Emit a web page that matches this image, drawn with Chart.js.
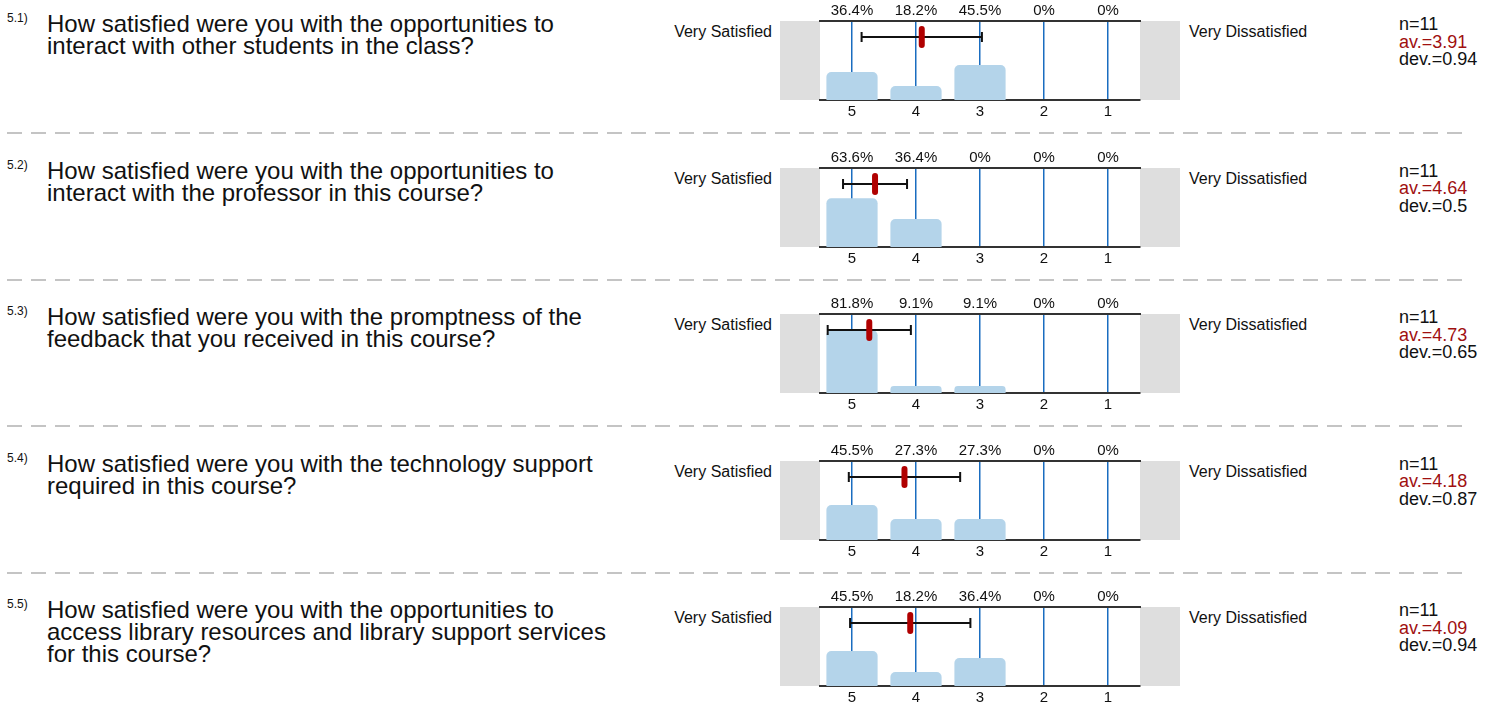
<!DOCTYPE html>
<html>
<head>
<meta charset="utf-8">
<script src="https://cdn.jsdelivr.net/npm/chart.js@4.4.1/dist/chart.umd.min.js"></script>
<style>
  body { margin: 0; background: #fff; font-family: "Liberation Sans", Arial, sans-serif; color: #111; }
  #page { position: relative; width: 1495px; height: 705px; overflow: hidden; }
  .abs { position: absolute; white-space: nowrap; }
  .qnum { font-size: 12px; }
  .qtext { font-size: 24px; line-height: 22px; }
  .pole { font-size: 16px; }
  .stats { font-size: 18px; line-height: 17.5px; }
  .stats .av { color: #a01010; }
  .sep { position: absolute; left: 7px; width: 1464px; height: 2px;
         background: repeating-linear-gradient(to right, #c4c4c4 0 15px, transparent 15px 24px); }
  canvas { position: absolute; }
</style>
</head>
<body>
<div id="page"></div>
<script>
// Antwortskala und Daten
const scaleLabels = ['5', '4', '3', '2', '1'];
const questionNumbers = ['5.1)', '5.2)', '5.3)', '5.4)', '5.5)'];
const questions = [
  ['How satisfied were you with the opportunities to', 'interact with other students in the class?'],
  ['How satisfied were you with the opportunities to', 'interact with the professor in this course?'],
  ['How satisfied were you with the promptness of the', 'feedback that you received in this course?'],
  ['How satisfied were you with the technology support', 'required in this course?'],
  ['How satisfied were you with the opportunities to', 'access library resources and library support services', 'for this course?']
];
const percents = [
  [36.4, 18.2, 45.5, 0, 0],
  [63.6, 36.4, 0, 0, 0],
  [81.8, 9.1, 9.1, 0, 0],
  [45.5, 27.3, 27.3, 0, 0],
  [45.5, 18.2, 36.4, 0, 0]
];
const counts = [11, 11, 11, 11, 11];
const means = [3.91, 4.64, 4.73, 4.18, 4.09];
const deviations = [0.94, 0.5, 0.65, 0.87, 0.94];
const leftPole = 'Very Satisfied';
const rightPole = 'Very Dissatisfied';

Chart.defaults.font.family = '"Liberation Sans", Arial, sans-serif';

const page = document.getElementById('page');

function addDiv(cls, left, top, html) {
  const d = document.createElement('div');
  d.className = 'abs ' + cls;
  d.style.left = left + 'px';
  d.style.top = top + 'px';
  d.innerHTML = html;
  page.appendChild(d);
  return d;
}

// graue Kästen links/rechts + Fehlerbalken mit Mittelwert
const profilePlugin = {
  id: 'profile',
  beforeDraw(chart) {
    const { ctx, chartArea: a } = chart;
    ctx.save();
    ctx.fillStyle = '#dedede';
    ctx.fillRect(a.left - 40, a.top, 40, a.bottom - a.top);
    ctx.fillRect(a.right, a.top, 40, a.bottom - a.top);
    ctx.restore();
  },
  afterDraw(chart) {
    const { ctx, chartArea: a } = chart;
    const x = chart.scales.x;
    const m = chart.options.plugins.profile.mean;
    const s = chart.options.plugins.profile.dev;
    // Skala 5..1 -> Index 0..4
    const px = v => x.getPixelForValue(5 - v);
    const y = a.top + 16;
    const x1 = px(m + s), x2 = px(m - s), xm = px(m);
    ctx.save();
    ctx.strokeStyle = '#111';
    ctx.lineWidth = 2;
    ctx.beginPath();
    ctx.moveTo(x1, y); ctx.lineTo(x2, y);
    ctx.moveTo(x1, y - 5); ctx.lineTo(x1, y + 5);
    ctx.moveTo(x2, y - 5); ctx.lineTo(x2, y + 5);
    ctx.stroke();
    ctx.fillStyle = '#b00000';
    ctx.beginPath();
    ctx.roundRect(xm - 3, y - 11, 6, 22, 3);
    ctx.fill();
    ctx.restore();
  }
};

questions.forEach((lines, i) => {
  const T = 21 + i * 146.6; // obere Linie des Profils

  addDiv('qnum', 7, T - 10, questionNumbers[i]);
  addDiv('qtext', 47, T - 8, lines.join('<br>'));
  const vs = addDiv('pole', 0, T + 2, leftPole);
  vs.style.left = 'auto';
  vs.style.right = (1495 - 772) + 'px';
  addDiv('pole', 1189, T + 2, rightPole);
  addDiv('stats', 1399, T - 5,
    'n=' + counts[i] + '<br><span class="av">av.=' + means[i] + '</span><br>dev.=' + deviations[i]);

  if (i < questions.length - 1) {
    const sep = document.createElement('div');
    sep.className = 'sep';
    sep.style.top = (T + 111) + 'px';
    page.appendChild(sep);
  }

  const cv = document.createElement('canvas');
  cv.width = 400; cv.height = 125;
  cv.style.left = '780px';
  cv.style.top = (T - 21) + 'px';
  page.appendChild(cv);

  new Chart(cv.getContext('2d'), {
    type: 'bar',
    data: {
      labels: scaleLabels,
      datasets: [{
        data: percents[i],
        backgroundColor: '#b4d4ea',
        borderRadius: { topLeft: 5, topRight: 5 },
        borderSkipped: 'bottom',
        categoryPercentage: 0.8,
        barPercentage: 1
      }]
    },
    options: {
      responsive: false,
      animation: false,
      layout: { padding: { left: 40, right: 40, top: 0, bottom: 0 } },
      plugins: {
        legend: { display: false },
        tooltip: { enabled: false },
        profile: { mean: means[i], dev: deviations[i] }
      },
      scales: {
        x: {
          position: 'bottom',
          offset: true,
          z: 1,
          grid: { offset: false, color: '#1a6dc0', lineWidth: 1.5, drawTicks: false },
          border: { color: '#333', width: 2 },
          ticks: { color: '#111', font: { size: 15 }, padding: 3, autoSkip: false, maxRotation: 0 },
          afterFit: s => { s.height = 25; }
        },
        xTop: {
          type: 'category',
          position: 'top',
          offset: true,
          labels: percents[i].map(p => (p === 0 ? '0' : p.toFixed(1)) + '%'),
          grid: { display: false, drawTicks: false },
          border: { color: '#333', width: 2 },
          ticks: { color: '#111', font: { size: 15 }, padding: 1, autoSkip: false, maxRotation: 0 },
          afterFit: s => { s.height = 21; }
        },
        y: { display: false, min: 0, max: 103 }
      }
    },
    plugins: [profilePlugin]
  });
});
</script>
</body>
</html>
